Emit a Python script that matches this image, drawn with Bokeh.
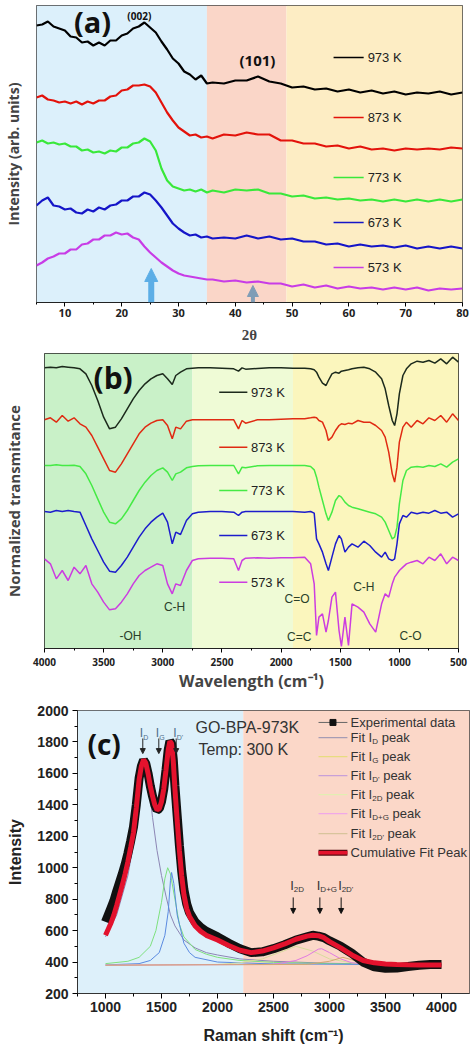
from bokeh.plotting import figure
from bokeh.layouts import column
from bokeh.models import Range1d, FixedTicker, BoxAnnotation, Arrow, NormalHead
from bokeh.core.properties import value
from bokeh.embed import file_html
from bokeh.resources import INLINE

# ---------------- (a) XRD data ----------------
XRD_2THETA = [5, 6, 7, 8, 9, 10, 11, 12, 13, 14, 15, 16, 17, 18, 19, 20, 21, 22, 23, 24,
              25, 26, 27, 28, 29, 30, 31, 32, 33, 34, 35,
              36, 38, 40, 42, 44, 46, 48, 50, 52, 54, 56, 58, 60, 62, 64, 66, 68, 70, 72,
              74, 76, 78, 80]
XRD_973K = [277, 278, 281, 276, 274, 272, 266, 265, 260, 261, 257, 260, 257, 262, 262, 267, 269, 274, 276, 280,
            275, 270, 261, 253, 244, 239, 231, 228, 223, 227, 219,
            220, 219, 222, 222, 226, 221, 219, 215, 216, 213, 214, 211, 213, 210, 212, 209, 211, 208, 210,
            209, 211, 208, 210]
XRD_873K = [205, 207, 203, 202, 200, 201, 199, 201, 198, 201, 199, 202, 202, 206, 207, 212, 213, 217, 217, 218,
            216, 210, 200, 190, 182, 175, 171, 167, 168, 165, 166,
            164, 168, 167, 170, 168, 168, 162, 162, 159, 159, 156, 157, 154, 156, 153, 154, 152, 154, 153,
            154, 153, 155, 154]
XRD_773K = [160, 162, 159, 160, 158, 159, 156, 156, 152, 153, 150, 151, 149, 152, 151, 155, 155, 159, 160, 164,
            161, 152, 134, 122, 116, 114, 112, 113, 111, 113, 110,
            112, 110, 113, 112, 113, 109, 109, 106, 107, 104, 105, 103, 104, 102, 103, 101, 103, 101, 103,
            101, 103, 101, 103]
XRD_673K = [97, 102, 105, 97, 96, 93, 94, 90, 89, 93, 91, 95, 93, 97, 98, 102, 102, 106, 106, 110,
            108, 102, 95, 87, 79, 74, 70, 67, 68, 65, 66,
            64, 65, 64, 67, 64, 66, 63, 64, 61, 61, 58, 59, 56, 58, 56, 57, 55, 57, 54,
            56, 54, 56, 54]
XRD_573K = [37, 40, 44, 46, 49, 49, 53, 53, 58, 59, 63, 63, 67, 67, 70, 68, 69, 65, 63, 56,
            50, 45, 40, 36, 32, 29, 27, 26, 25, 24, 23,
            23, 21, 22, 20, 21, 19, 19, 16, 18, 15, 17, 14, 16, 14, 15, 13, 15, 13, 15,
            12, 14, 13, 14]
XRD_TICKS = [10, 20, 30, 40, 50, 60, 70, 80]
XRD_MINOR = [5, 15, 25, 35, 45, 55, 65, 75]

# ---------------- (b) FTIR data ----------------
FTIR_WN = [4000, 3950, 3900, 3850, 3800, 3750, 3700, 3650, 3600, 3550,
           3500, 3450, 3400, 3350, 3300, 3250, 3200, 3150, 3100, 3050,
           3000, 2960, 2920, 2890, 2850, 2800, 2750, 2700, 2600, 2500,
           2400, 2360, 2330, 2300, 2200, 2100, 2000, 1900, 1800, 1750,
           1720, 1700, 1680, 1650, 1620, 1600, 1570, 1540, 1510, 1490,
           1460, 1430, 1400, 1350, 1300, 1250, 1200, 1150, 1120, 1090,
           1060, 1040, 1020, 1000, 970, 940, 900, 850, 800, 750,
           700, 650, 600, 550, 500]
FTIR_973K = [843, 845, 843, 847, 845, 843, 840, 825, 790, 745,
             695, 660, 665, 690, 720, 750, 775, 795, 810, 820,
             825, 810, 793, 820, 830, 840, 842, 843, 843, 842,
             840, 833, 843, 839, 841, 843, 843, 842, 842, 840,
             837, 830, 815, 797, 790, 805, 825, 830, 827, 833,
             835, 837, 840, 843, 845, 840, 830, 810, 780, 730,
             685, 670, 705, 765, 820, 840, 855, 863, 860, 865,
             857, 870, 855, 875, 860]
FTIR_873K = [687, 693, 680, 700, 683, 693, 675, 665, 640, 605,
             570, 535, 530, 555, 585, 615, 645, 665, 677, 685,
             687, 670, 630, 665, 660, 683, 687, 687, 687, 687,
             687, 660, 685, 677, 687, 687, 689, 690, 690, 693,
             695, 693, 685, 680, 655, 625, 635, 655, 670, 675,
             673, 677, 675, 685, 680, 680, 670, 655, 635, 590,
             525, 500, 545, 620, 665, 680, 665, 685, 675, 693,
             685, 700, 680, 705, 685]
FTIR_773K = [550, 550, 552, 550, 550, 551, 547, 525, 490, 450,
             410, 380, 375, 390, 415, 445, 475, 500, 520, 535,
             543, 530, 505, 525, 530, 543, 547, 549, 550, 550,
             550, 525, 545, 543, 549, 550, 550, 550, 550, 547,
             537, 515, 485, 445, 405, 385, 410, 445, 460, 455,
             440, 430, 425, 420, 415, 410, 405, 395, 380, 355,
             330, 335, 365, 435, 505, 535, 545, 547, 545, 550,
             547, 555, 545, 560, 570]
FTIR_673K = [412, 410, 415, 412, 415, 412, 410, 370, 330, 295,
             260, 233, 230, 250, 275, 305, 335, 360, 380, 395,
             407, 380, 315, 350, 343, 385, 405, 410, 412, 412,
             410, 400, 410, 412, 412, 412, 412, 412, 410, 412,
             407, 330, 315, 290, 255, 235, 275, 315, 340, 330,
             290, 305, 315, 305, 323, 310, 290, 275, 290, 270,
             265, 270, 315, 375, 400, 395, 410, 405, 410, 407,
             415, 407, 410, 395, 405]
FTIR_573K = [270, 255, 210, 235, 205, 245, 225, 250, 195, 170,
             140, 117, 120, 140, 165, 195, 220, 235, 245, 255,
             250, 195, 165, 195, 190, 235, 265, 270, 272, 272,
             270, 235, 265, 272, 273, 272, 273, 273, 275, 255,
             195, 40, 95, 105, 50, 85, 155, 170, 55, 7,
             95, 10, 135, 125, 110, 75, 50, 135, 165, 155,
             195, 215, 225, 235, 245, 255, 260, 265, 255, 275,
             265, 285, 255, 275, 265]
FTIR_TICKS = [4000, 3500, 3000, 2500, 2000, 1500, 1000, 500]
FTIR_MINOR = [3750, 3250, 2750, 2250, 1750, 1250, 750]

# ---------------- (c) Raman data ----------------
RAMAN_X = [1000, 1025, 1050, 1075, 1100, 1125, 1150, 1175, 1200, 1225,
           1250, 1275, 1300, 1320, 1340, 1360, 1380, 1400, 1420, 1440,
           1460, 1480, 1500, 1520, 1540, 1560, 1575, 1590, 1605, 1620,
           1640, 1660, 1680, 1700, 1725, 1750, 1800, 1850, 1900, 2000,
           2100, 2200, 2300, 2400, 2500, 2600, 2700, 2800, 2850, 2900,
           2950, 3000, 3100, 3200, 3300, 3400, 3500, 3600, 3700, 3800,
           3900, 4000]
RAMAN_EXP = [655, 700, 745, 790, 850, 905, 960, 1020, 1090, 1170,
             1260, 1400, 1570, 1645, 1685, 1662, 1600, 1520, 1455, 1400,
             1368, 1375, 1420, 1500, 1620, 1750, 1805, 1790, 1690, 1520,
             1330, 1140, 980, 860, 770, 715, 655, 620, 595, 560,
             520, 485, 460, 465, 485, 510, 540, 560, 570, 565,
             555, 535, 500, 455, 400, 370, 360, 362, 372, 380,
             385, 385]
RAMAN_CUM = [570, 610, 650, 700, 760, 825, 890, 960, 1040, 1130,
             1225, 1380, 1560, 1645, 1688, 1665, 1600, 1520, 1455, 1400,
             1368, 1375, 1420, 1500, 1620, 1750, 1805, 1790, 1680, 1500,
             1300, 1110, 950, 830, 740, 690, 630, 595, 570, 540,
             505, 475, 460, 470, 490, 515, 545, 565, 570, 568,
             555, 530, 490, 445, 410, 395, 388, 385, 383, 382,
             382, 382]
FIT_D_X = [1000, 1100, 1200, 1250, 1300, 1340, 1380, 1420, 1460, 1500, 1540, 1580, 1620, 1700,
           1800, 1900, 2000, 2200, 2500, 3000, 3500, 4000]
FIT_D_Y = [560, 700, 950, 1150, 1500, 1688, 1560, 1320, 1110, 950, 820, 700, 630, 540,
           490, 460, 445, 420, 405, 392, 387, 384]
FIT_G_X = [1000, 1200, 1300, 1400, 1450, 1500, 1530, 1555, 1580, 1620, 1660, 1700, 1800, 1900,
           2000, 2200, 2500, 3000, 4000]
FIT_G_Y = [390, 405, 430, 500, 600, 780, 930, 1000, 960, 800, 640, 560, 480, 450,
           430, 410, 398, 390, 385]
FIT_DP_X = [1000, 1300, 1400, 1480, 1530, 1560, 1580, 1590, 1610, 1640, 1700, 1750, 1800, 2000,
            2500, 4000]
FIT_DP_Y = [382, 390, 410, 460, 570, 720, 920, 970, 900, 700, 520, 460, 430, 400,
            388, 383]
FIT_2D_X = [1000, 2000, 2200, 2400, 2550, 2700, 2850, 3000, 3200, 3500, 4000]
FIT_2D_Y = [380, 385, 395, 420, 460, 500, 470, 420, 395, 385, 382]
FIT_DG_X = [1000, 2500, 2700, 2800, 2900, 2930, 3000, 3100, 3200, 3400, 4000]
FIT_DG_Y = [380, 385, 410, 440, 482, 485, 460, 420, 395, 385, 382]
FIT_2DP_X = [1000, 2800, 3000, 3120, 3250, 3400, 4000]
FIT_2DP_Y = [380, 385, 405, 430, 405, 388, 382]
RAMAN_XTICKS = [1000, 1500, 2000, 2500, 3000, 3500, 4000]
RAMAN_XMINOR = [750, 1250, 1750, 2250, 2750, 3250, 3750]
RAMAN_YTICKS = [200, 400, 600, 800, 1000, 1200, 1400, 1600, 1800, 2000]
RAMAN_YMINOR = [300, 500, 700, 900, 1100, 1300, 1500, 1700, 1900]

W = 474


def put(p, x, y, s, size, font="Liberation Sans", color="#222222", style="normal",
        align="left", xo=0, yo=0):
    p.text(x=[x], y=[y], text=[s], text_font=value(font),
           text_font_size=value(f"{size}px"), text_font_style=value(style),
           text_color=value(color), text_align=value(align),
           text_baseline=value("middle"), x_offset=value(xo), y_offset=value(yo))


def band(p, left, right, color):
    p.add_layout(BoxAnnotation(left=left, right=right, fill_color=color, fill_alpha=1.0,
                               line_color=None, level="underlay"))


def base_style(p):
    p.xgrid.visible = False
    p.ygrid.visible = False
    p.outline_line_color = "#444444"
    p.outline_line_width = 1
    p.background_fill_color = "white"
    p.border_fill_color = "white"


# =============== panel (a) ===============
pa = figure(width=W, height=348, x_range=Range1d(5, 80), y_range=Range1d(0, 297),
            output_backend="svg", toolbar_location=None, frame_align=False,
            min_border_left=36, min_border_right=12, min_border_top=5, min_border_bottom=46)
base_style(pa)
band(pa, 5, 35, "#dcf0fb")
band(pa, 35, 49, "#fad6c8")
band(pa, 49, 80, "#fdedc4")

xa = [("973 K", XRD_973K, "#000000", 245),
      ("873 K", XRD_873K, "#e3120b", 185),
      ("773 K", XRD_773K, "#39e83a", 125),
      ("673 K", XRD_673K, "#1515c8", 80),
      ("573 K", XRD_573K, "#c83ce6", 35)]
for lab, ys, col, ly in xa:
    pa.line(XRD_2THETA, ys, line_color=col, line_width=2.2)
    pa.segment(x0=[57.3], y0=[ly], x1=[62.6], y1=[ly], line_color=col, line_width=1.3)
    put(pa, 63.3, ly, lab, 13, color="#222222")

put(pa, 11.6, 281, "(a)", 29, font="Open Sans", style="bold", color="#111111")
put(pa, 23.1, 287, "(002)", 10, font="Open Sans", style="bold", color="#111111", align="center")
put(pa, 43.9, 243, "(101)", 15, font="Open Sans", style="bold", color="#111111", align="center")

pa.add_layout(Arrow(end=NormalHead(size=13, fill_color="#5caee6", line_color="#5caee6"),
                    x_start=25.2, y_start=0, x_end=25.2, y_end=34,
                    line_color="#5caee6", line_width=6))
pa.add_layout(Arrow(end=NormalHead(size=11, fill_color="#7f9db6", line_color="#7f9db6"),
                    x_start=43.1, y_start=0, x_end=43.1, y_end=17,
                    line_color="#7f9db6", line_width=4))

pa.xaxis.ticker = FixedTicker(ticks=XRD_TICKS, minor_ticks=XRD_MINOR)
pa.xaxis.major_label_text_font = "Open Sans"
pa.xaxis.major_label_text_font_style = "bold"
pa.xaxis.major_label_text_font_size = "11px"
pa.xaxis.major_label_text_color = "#222222"
pa.xaxis.major_tick_out = 4
pa.xaxis.major_tick_in = 0
pa.xaxis.minor_tick_out = 2
pa.xaxis.minor_tick_in = 0
pa.xaxis.major_label_standoff = 2
pa.xaxis.axis_label = "2θ"
pa.xaxis.axis_label_text_font = "Liberation Serif"
pa.xaxis.axis_label_text_font_style = "bold"
pa.xaxis.axis_label_text_font_size = "15px"
pa.xaxis.axis_label_standoff = 7
pa.xaxis.axis_line_color = "#222222"
pa.yaxis.ticker = FixedTicker(ticks=[])
pa.yaxis.major_label_text_font_size = "0px"
pa.yaxis.major_label_standoff = 0
pa.yaxis.major_tick_out = 0
pa.yaxis.minor_tick_out = 0
pa.yaxis.axis_line_color = None
pa.yaxis.axis_label = "Intensity (arb. units)"
pa.yaxis.axis_label_text_font = "Open Sans"
pa.yaxis.axis_label_text_font_style = "bold"
pa.yaxis.axis_label_text_font_size = "14px"
pa.yaxis.axis_label_standoff = 14

# =============== panel (b) ===============
pb = figure(width=W, height=350, x_range=Range1d(4000, 500), y_range=Range1d(1, 886),
            output_backend="svg", toolbar_location=None, frame_align=False,
            min_border_left=41, min_border_right=16, min_border_top=5, min_border_bottom=50)
base_style(pb)
pb.outline_line_color = "#222222"
band(pb, 4000, 2750, "#c9f1c8")
band(pb, 2750, 1900, "#effbd6")
band(pb, 1900, 500, "#fbf6bd")

xb = [("973 K", FTIR_973K, "#1c2a1c", 770),
      ("873 K", FTIR_873K, "#e02a12", 605),
      ("773 K", FTIR_773K, "#45ea45", 475),
      ("673 K", FTIR_673K, "#1c1ccc", 340),
      ("573 K", FTIR_573K, "#cc3ce0", 200)]
for lab, ys, col, ly in xb:
    pb.line(FTIR_WN, ys, line_color=col, line_width=1.5)
    pb.segment(x0=[2523], y0=[ly], x1=[2285], y1=[ly], line_color=col, line_width=1.5)
    put(pb, 2255, ly, lab, 13, color="#222222")

put(pb, 3586, 815, "(b)", 30, font="Open Sans", style="bold", color="#111111")
band_col = "#2a3f2a"
put(pb, 2900, 125, "C-H", 12, color=band_col, align="center")
put(pb, 3273, 40, "-OH", 12, color=band_col, align="center")
put(pb, 1865, 150, "C=O", 12, color=band_col, align="center")
put(pb, 1846, 35, "C=C", 12, color=band_col, align="center")
put(pb, 1300, 185, "C-H", 12, color=band_col, align="center")
put(pb, 905, 40, "C-O", 12, color=band_col, align="center")

pb.xaxis.ticker = FixedTicker(ticks=FTIR_TICKS, minor_ticks=FTIR_MINOR)
pb.xaxis.major_label_text_font = "Open Sans"
pb.xaxis.major_label_text_font_style = "bold"
pb.xaxis.major_label_text_font_size = "10px"
pb.xaxis.major_label_text_color = "#222222"
pb.xaxis.major_tick_out = 4
pb.xaxis.major_tick_in = 0
pb.xaxis.minor_tick_out = 2
pb.xaxis.minor_tick_in = 0
pb.xaxis.major_label_standoff = 5
pb.xaxis.axis_label = "Wavelength (cm⁻¹)"
pb.xaxis.axis_label_text_font = "Open Sans"
pb.xaxis.axis_label_text_font_style = "bold"
pb.xaxis.axis_label_text_font_size = "16px"
pb.xaxis.axis_label_standoff = 1
pb.xaxis.axis_line_color = "#222222"
pb.yaxis.ticker = FixedTicker(ticks=[])
pb.yaxis.major_label_text_font_size = "0px"
pb.yaxis.major_label_standoff = 0
pb.yaxis.major_tick_out = 0
pb.yaxis.minor_tick_out = 0
pb.yaxis.axis_line_color = None
pb.yaxis.axis_label = "Normalized transmitance"
pb.yaxis.axis_label_text_font = "Open Sans"
pb.yaxis.axis_label_text_font_style = "bold"
pb.yaxis.axis_label_text_font_size = "15px"
pb.yaxis.axis_label_standoff = 21

# =============== panel (c) ===============
pc = figure(width=W, height=353, x_range=Range1d(750, 4250), y_range=Range1d(200, 2000),
            output_backend="svg", toolbar_location=None, frame_align=False,
            min_border_left=77, min_border_right=5, min_border_top=12, min_border_bottom=58)
base_style(pc)
band(pc, 750, 2230, "#ddf0fa")
band(pc, 2230, 4250, "#fbd7c8")

pc.line(FIT_D_X, FIT_D_Y, line_color="#8c86b4", line_width=1)
pc.line(FIT_G_X, FIT_G_Y, line_color="#7ee07e", line_width=1)
pc.line(FIT_DP_X, FIT_DP_Y, line_color="#5a8ae0", line_width=1)
pc.line(FIT_2D_X, FIT_2D_Y, line_color="#d6dc9c", line_width=1)
pc.line(FIT_DG_X, FIT_DG_Y, line_color="#e07ae0", line_width=1)
pc.line(FIT_2DP_X, FIT_2DP_Y, line_color="#d4a870", line_width=1)
pc.line(RAMAN_X, RAMAN_EXP, line_color="#111111", line_width=9)
pc.line(RAMAN_X, RAMAN_CUM, line_color="#e3122d", line_width=5)

# legend (c)
LX0, LX1, LT = 2902, 3160, 3188
pc.segment(x0=[LX0], y0=[1924], x1=[LX1], y1=[1924], line_color="#666666", line_width=1)
pc.scatter(x=[3031], y=[1924], marker="square", size=6, color="#111111")
put(pc, LT, 1924, "Experimental data", 13, color="#333333")
leg = [(1828, "D", 5.8, "#a69cb4"), (1707, "G", 6.2, "#e8dc80"), (1586, "D'", 7.3, "#c8a0d8"),
       (1465, "2D", 10.2, "#e2eeb2"), (1344, "D+G", 16.7, "#f0a8e8"), (1217, "2D'", 11.7, "#d8c49c")]
for ly, sub, sw, col in leg:
    pc.segment(x0=[LX0], y0=[ly], x1=[LX1], y1=[ly], line_color=col, line_width=1.2)
    put(pc, LT, ly, "Fit I", 13, color="#333333")
    put(pc, LT, ly, sub, 8, color="#333333", xo=21.7, yo=4)
    put(pc, LT, ly, "peak", 13, color="#333333", xo=21.7 + sw + 3.6)
pc.segment(x0=[LX0], y0=[1096], x1=[LX1], y1=[1096], line_color="#5a0a10", line_width=6)
pc.segment(x0=[LX0], y0=[1096], x1=[LX1], y1=[1096], line_color="#e3122d", line_width=3.5)
put(pc, LT, 1096, "Cumulative Fit Peak", 13, color="#333333")

put(pc, 839, 1790, "(c)", 28, font="Open Sans", style="bold", color="#111111")
put(pc, 1803, 1893, "GO-BPA-973K", 16, color="#333333")
put(pc, 1830, 1753, "Temp: 300 K", 16, color="#333333")

for xa_, sub in [(1333, "D"), (1476, "G"), (1631, "D'")]:
    put(pc, xa_, 1854, "I", 12, color="#4f6f8c", xo=-3)
    put(pc, xa_, 1854, sub, 7, color="#4f6f8c", xo=0.5, yo=4)
    pc.add_layout(Arrow(end=NormalHead(size=5, fill_color="#222222", line_color="#222222"),
                        x_start=xa_, y_start=1822, x_end=xa_, y_end=1726,
                        line_color="#222222", line_width=1))
for xa_, sub in [(2676, "2D"), (2914, "D+G"), (3104, "2D'")]:
    put(pc, xa_, 885, "I", 13, color="#333333", xo=-3)
    put(pc, xa_, 885, sub, 8, color="#333333", xo=0.5, yo=4)
    pc.add_layout(Arrow(end=NormalHead(size=5, fill_color="#111111", line_color="#111111"),
                        x_start=xa_, y_start=811, x_end=xa_, y_end=709,
                        line_color="#111111", line_width=1))

for ax in (pc.xaxis, pc.yaxis):
    ax.major_label_text_font = "Liberation Sans"
    ax.major_label_text_font_style = "bold"
    ax.major_label_text_font_size = "14px"
    ax.major_label_text_color = "#222222"
    ax.major_tick_out = 5
    ax.major_tick_in = 0
    ax.minor_tick_out = 3
    ax.minor_tick_in = 0
    ax.axis_line_color = "#333333"
    ax.axis_label_text_font = "Liberation Sans"
    ax.axis_label_text_font_style = "bold"
    ax.axis_label_text_font_size = "16px"
    ax.axis_label_text_color = "#222222"
pc.xaxis.ticker = FixedTicker(ticks=RAMAN_XTICKS, minor_ticks=RAMAN_XMINOR)
pc.yaxis.ticker = FixedTicker(ticks=RAMAN_YTICKS, minor_ticks=RAMAN_YMINOR)
pc.xaxis.major_label_standoff = 3
pc.xaxis.axis_label = "Raman shift (cm⁻¹)"
pc.xaxis.axis_label_standoff = 12
pc.yaxis.major_label_standoff = 4
pc.yaxis.axis_label = "Intensity"
pc.yaxis.axis_label_standoff = 10

layout = column(pa, pb, pc, spacing=0)
open("out.html", "w").write(file_html(layout, INLINE))
